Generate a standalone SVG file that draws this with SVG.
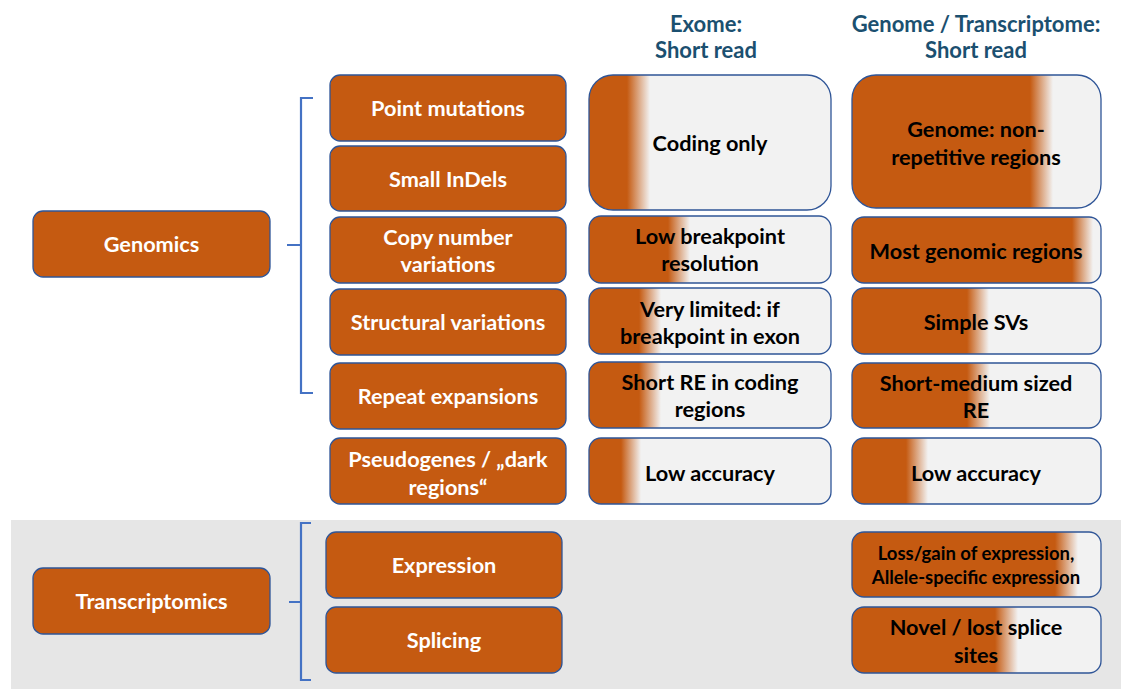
<svg xmlns="http://www.w3.org/2000/svg" width="1121" height="689" viewBox="0 0 1121 689">
<style>
text{font-family:Lato,"Open Sans","Liberation Sans",sans-serif;font-weight:bold;text-anchor:middle}
.cat rect{fill:#C55A11;stroke:#2F5597;stroke-width:1.3}
.cat text{fill:#fff;font-size:21.7px}
.res rect{stroke:#2F5597;stroke-width:1.3}
.res text{fill:#000;font-size:21.7px}
.hdr{fill:#1B5070;font-size:22px}
.brace{fill:none;stroke:#4472C4;stroke-width:2.2}
</style>
<defs>
<linearGradient id="g1" gradientUnits="userSpaceOnUse" x1="627" x2="650" y1="0" y2="0"><stop offset="0" stop-color="#C55A11"/><stop offset="1" stop-color="#F2F2F2"/></linearGradient>
<linearGradient id="g2" gradientUnits="userSpaceOnUse" x1="668" x2="690" y1="0" y2="0"><stop offset="0" stop-color="#C55A11"/><stop offset="1" stop-color="#F2F2F2"/></linearGradient>
<linearGradient id="g3" gradientUnits="userSpaceOnUse" x1="639" x2="661" y1="0" y2="0"><stop offset="0" stop-color="#C55A11"/><stop offset="1" stop-color="#F2F2F2"/></linearGradient>
<linearGradient id="g4" gradientUnits="userSpaceOnUse" x1="639" x2="661" y1="0" y2="0"><stop offset="0" stop-color="#C55A11"/><stop offset="1" stop-color="#F2F2F2"/></linearGradient>
<linearGradient id="g5" gradientUnits="userSpaceOnUse" x1="621" x2="641" y1="0" y2="0"><stop offset="0" stop-color="#C55A11"/><stop offset="1" stop-color="#F2F2F2"/></linearGradient>
<linearGradient id="h1" gradientUnits="userSpaceOnUse" x1="1030" x2="1053" y1="0" y2="0"><stop offset="0" stop-color="#C55A11"/><stop offset="1" stop-color="#F2F2F2"/></linearGradient>
<linearGradient id="h2" gradientUnits="userSpaceOnUse" x1="1072" x2="1093" y1="0" y2="0"><stop offset="0" stop-color="#C55A11"/><stop offset="1" stop-color="#F2F2F2"/></linearGradient>
<linearGradient id="h3" gradientUnits="userSpaceOnUse" x1="967" x2="989" y1="0" y2="0"><stop offset="0" stop-color="#C55A11"/><stop offset="1" stop-color="#F2F2F2"/></linearGradient>
<linearGradient id="h4" gradientUnits="userSpaceOnUse" x1="967" x2="990" y1="0" y2="0"><stop offset="0" stop-color="#C55A11"/><stop offset="1" stop-color="#F2F2F2"/></linearGradient>
<linearGradient id="h5" gradientUnits="userSpaceOnUse" x1="906" x2="928" y1="0" y2="0"><stop offset="0" stop-color="#C55A11"/><stop offset="1" stop-color="#F2F2F2"/></linearGradient>
<linearGradient id="h6" gradientUnits="userSpaceOnUse" x1="1055" x2="1078" y1="0" y2="0"><stop offset="0" stop-color="#C55A11"/><stop offset="1" stop-color="#F2F2F2"/></linearGradient>
<linearGradient id="h7" gradientUnits="userSpaceOnUse" x1="995" x2="1018" y1="0" y2="0"><stop offset="0" stop-color="#C55A11"/><stop offset="1" stop-color="#F2F2F2"/></linearGradient>
</defs>
<rect x="0" y="0" width="1121" height="689" fill="#fff"/>
<rect x="11" y="520" width="1110" height="169" fill="#E6E6E6"/>

<text class="hdr" x="706" y="32">Exome:</text>
<text class="hdr" x="706" y="58">Short read</text>
<text class="hdr" x="976" y="32">Genome / Transcriptome:</text>
<text class="hdr" x="976" y="58">Short read</text>

<g id="connectors">
<path class="brace" d="M313 98 H301 V393 H313 M287 245 H301"/>
<path class="brace" d="M311 523 H301 V680 H311 M289 602 H301"/>
</g>

<g id="genomics" class="cat"><rect x="33" y="211" width="237" height="66" rx="10"/><text x="151.5" y="252">Genomics</text></g>
<g id="transcriptomics" class="cat"><rect x="33" y="568" width="237" height="66" rx="10"/><text x="151.5" y="609">Transcriptomics</text></g>

<g id="point-mutations" class="cat"><rect x="330" y="75" width="236" height="66" rx="10"/><text x="448" y="116">Point mutations</text></g>
<g id="small-indels" class="cat"><rect x="330" y="146" width="236" height="65" rx="10"/><text x="448" y="187">Small InDels</text></g>
<g id="cnv" class="cat"><rect x="330" y="217" width="236" height="66" rx="10"/><text x="448" y="245">Copy number</text><text x="448" y="272">variations</text></g>
<g id="sv" class="cat"><rect x="330" y="289" width="236" height="66" rx="10"/><text x="448" y="330">Structural variations</text></g>
<g id="re" class="cat"><rect x="330" y="363" width="236" height="66" rx="10"/><text x="448" y="404">Repeat expansions</text></g>
<g id="pseudogenes" class="cat"><rect x="330" y="438" width="236" height="66" rx="10"/><text x="448" y="467">Pseudogenes / „dark</text><text x="448" y="495">regions“</text></g>
<g id="expression" class="cat"><rect x="326" y="532" width="236" height="66" rx="10"/><text x="444" y="573">Expression</text></g>
<g id="splicing" class="cat"><rect x="326" y="607" width="236" height="66" rx="10"/><text x="444" y="648">Splicing</text></g>

<g id="ex-coding" class="res"><rect x="589" y="75" width="242" height="135" rx="24" fill="url(#g1)"/><text x="710" y="151">Coding only</text></g>
<g id="ex-cnv" class="res"><rect x="589" y="216" width="242" height="67" rx="12" fill="url(#g2)"/><text x="710" y="244">Low breakpoint</text><text x="710" y="271">resolution</text></g>
<g id="ex-sv" class="res"><rect x="589" y="288" width="242" height="66" rx="12" fill="url(#g3)"/><text x="710" y="317">Very limited: if</text><text x="710" y="344">breakpoint in exon</text></g>
<g id="ex-re" class="res"><rect x="589" y="362" width="242" height="66" rx="12" fill="url(#g4)"/><text x="710" y="390">Short RE in coding</text><text x="710" y="417">regions</text></g>
<g id="ex-pseudo" class="res"><rect x="589" y="438" width="242" height="66" rx="12" fill="url(#g5)"/><text x="710" y="481">Low accuracy</text></g>

<g id="gn-nonrep" class="res"><rect x="852" y="75" width="249" height="133" rx="24" fill="url(#h1)"/><text x="976" y="137">Genome: non-</text><text x="976" y="165">repetitive regions</text></g>
<g id="gn-cnv" class="res"><rect x="852" y="217" width="249" height="66" rx="12" fill="url(#h2)"/><text x="976" y="259">Most genomic regions</text></g>
<g id="gn-sv" class="res"><rect x="852" y="288" width="249" height="66" rx="12" fill="url(#h3)"/><text x="976" y="330">Simple SVs</text></g>
<g id="gn-re" class="res"><rect x="852" y="363" width="249" height="65" rx="12" fill="url(#h4)"/><text x="976" y="391">Short-medium sized</text><text x="976" y="418">RE</text></g>
<g id="gn-pseudo" class="res"><rect x="852" y="438" width="249" height="66" rx="12" fill="url(#h5)"/><text x="976" y="481">Low accuracy</text></g>
<g id="tr-expr" class="res"><rect x="852" y="532" width="249" height="65" rx="12" fill="url(#h6)"/><text x="976" y="560" style="font-size:18.5px">Loss/gain of expression,</text><text x="976" y="584" style="font-size:18.5px">Allele-specific expression</text></g>
<g id="tr-splice" class="res"><rect x="852" y="607" width="249" height="66" rx="12" fill="url(#h7)"/><text x="976" y="635">Novel / lost splice</text><text x="976" y="663">sites</text></g>
</svg>
